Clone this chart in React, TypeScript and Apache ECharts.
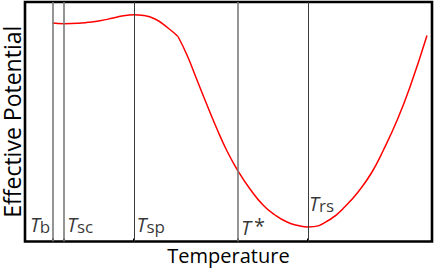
import React, { useEffect, useRef } from "react";
import * as echarts from "echarts";

// Curve: temperature (0..100 units) vs effective potential (0..100 units)
const temperature = [6.76, 9.58, 13.02, 15.48, 18.43, 21.38, 23.83, 26.78, 28.75, 31.94, 35.14, 37.59, 39.8, 42.26, 44.72, 47.17, 49.63, 52.33, 55.28, 58.48, 61.43, 64.37, 67.08, 69.53, 74.94, 79.12, 82.31, 85.26, 87.96, 91.4, 94.59, 98.77];
const potential = [91.23, 90.94, 91.11, 91.52, 92.19, 93.19, 94.15, 94.7, 94.45, 92.9, 89.14, 85.59, 77.87, 67.43, 56.99, 46.97, 37.79, 29.44, 21.92, 15.24, 11.06, 8.14, 6.68, 6.05, 9.19, 15.45, 21.71, 29.02, 37.79, 50.52, 64.51, 86.01];
const kinkIndex = 11; // sharp bend after the spinodal hump

// Characteristic temperatures
const markerNames = ["b", "sc", "sp", "*", "rs"];
const markerTemps = [6.9, 9.6, 26.8, 52.3, 69.5];
const markerColors = ["#7a7a7a", "#7a7a7a", "#3a3a3a", "#7a7a7a", "#3a3a3a"];
const markerWidths = [1.6, 1.6, 1, 1.6, 1];

// Label anchors (data coords)
const labelX = [1.2, 10.3, 27.4, 53.1, 69.8];
const labelY = [7.3, 7.3, 7.3, 6.0, 15.8];

export default function App() {
  const ref = useRef<HTMLDivElement>(null);
  useEffect(() => {
    document.body.style.margin = "0";
    const chart = echarts.init(ref.current!, null, { renderer: "svg" });
    const font = "'Open Sans', 'Noto Sans', sans-serif";
    const pts = temperature.map((t, i) => [t, potential[i]]);
    const curveStyle = { color: "#ff0000", width: 1.5 };
    chart.setOption({
      animation: false,
      backgroundColor: "#ffffff",
      grid: {
        left: 25,
        right: 4,
        top: 2,
        bottom: 29.5,
        outerBoundsMode: "none",
        containLabel: false,
        show: true,
        borderColor: "#000",
        borderWidth: 2.6,
        backgroundColor: "#fff",
      },
      xAxis: {
        type: "value",
        min: 0,
        max: 100,
        name: "Temperature",
        nameLocation: "middle",
        nameGap: 4,
        nameTextStyle: { fontFamily: font, fontSize: 20, color: "#000", verticalAlign: "top" },
        axisLine: { show: false },
        axisTick: {
          show: true,
          inside: true,
          length: 3,
          customValues: markerTemps,
          lineStyle: { color: "#000", width: 2 },
        },
        axisLabel: { show: false },
        splitLine: { show: false },
      },
      yAxis: {
        type: "value",
        min: 0,
        max: 100,
        name: "Effective Potential",
        nameLocation: "middle",
        nameGap: 3,
        nameTextStyle: { fontFamily: font, fontSize: 23, lineHeight: 21, color: "#000" },
        axisLine: { show: false },
        axisTick: { show: false },
        axisLabel: { show: false },
        splitLine: { show: false },
      },
      series: [
        {
          type: "line",
          data: pts.slice(0, kinkIndex + 1),
          smooth: 0.5,
          symbol: "none",
          lineStyle: curveStyle,
          z: 3,
          markLine: {
            silent: true,
            symbol: "none",
            label: { show: false },
            data: markerTemps.map((t, i) => ({
              xAxis: t,
              lineStyle: { color: markerColors[i], width: markerWidths[i], type: "solid" },
            })),
          },
        },
        {
          type: "line",
          data: pts.slice(kinkIndex),
          smooth: 0.5,
          symbol: "none",
          lineStyle: curveStyle,
          z: 3,
        },
        {
          type: "scatter",
          symbolSize: 0,
          z: 4,
          data: labelX.map((x, i) => ({ value: [x, labelY[i]], name: markerNames[i] })),
          label: {
            show: true,
            position: "right",
            distance: 0,
            formatter: (p: any) =>
              p.name === "*" ? "{t|T}{a|*}" : "{t|T}{s|" + p.name + "}",
            rich: {
              t: { fontFamily: font, fontSize: 20, fontStyle: "italic", color: "#000" },
              s: { fontFamily: font, fontSize: 17, color: "#000", padding: [4, 0, 0, 0] },
              a: { fontFamily: font, fontSize: 20, color: "#000", padding: [0, 0, 4, 3] },
            },
          },
        },
      ],
    });
    return () => chart.dispose();
  }, []);
  return <div ref={ref} style={{ width: 436, height: 271 }} />;
}
